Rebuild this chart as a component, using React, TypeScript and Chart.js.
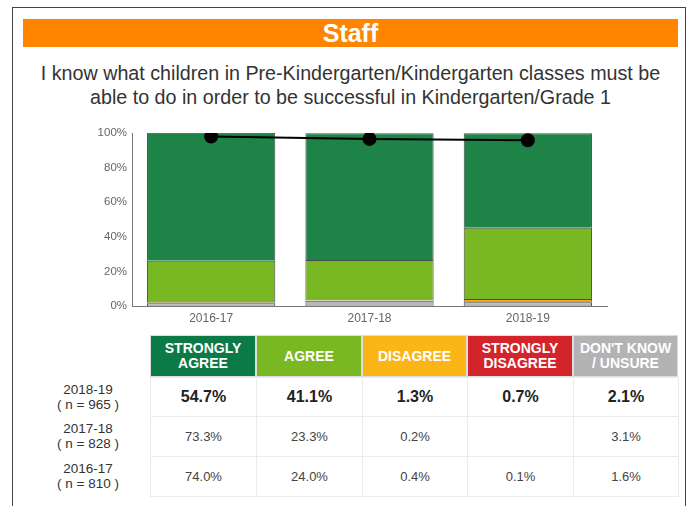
import React, { useEffect, useRef } from "react";
import { Chart, registerables } from "chart.js";

Chart.register(...registerables);

const categories = ["2016-17", "2017-18", "2018-19"];
const dontKnow = [1.6, 3.1, 2.1];
const stronglyDisagree = [0.1, 0, 0.7];
const disagree = [0.4, 0.2, 1.3];
const agree = [24.0, 23.3, 41.1];
const stronglyAgree = [74.0, 73.3, 54.7];
const agreeTotal = [98.0, 96.6, 95.8];
const yTicks = [0, 20, 40, 60, 80, 100];

const tableRows = ["2018-19", "2017-18", "2016-17"];
const tableN = [965, 828, 810];
const tableHeaders = [["STRONGLY", "AGREE"], ["AGREE"], ["DISAGREE"], ["STRONGLY", "DISAGREE"], ["DON'T KNOW", "/ UNSURE"]];
const tableValues = [
  ["54.7%", "41.1%", "1.3%", "0.7%", "2.1%"],
  ["73.3%", "23.3%", "0.2%", "", "3.1%"],
  ["74.0%", "24.0%", "0.4%", "0.1%", "1.6%"],
];
const headerColors = ["#0b7a47", "#79b823", "#fbb517", "#d3242c", "#b3b3b3"];

const FONT = "'Liberation Sans', Arial, sans-serif";

function StackChart() {
  const ref = useRef<HTMLCanvasElement | null>(null);
  useEffect(() => {
    if (!ref.current) return;
    const border = "rgba(40,40,40,0.85)";
    const chart = new Chart(ref.current, {
      type: "bar",
      data: {
        labels: categories,
        datasets: [
          {
            type: "line",
            label: "Agree total",
            data: agreeTotal,
            borderColor: "#000",
            backgroundColor: "#000",
            borderWidth: 2,
            pointRadius: 6,
            pointBackgroundColor: "#000",
            pointBorderColor: "#000",
            tension: 0,
            order: 0,
          } as any,
          { label: "Don't Know", data: dontKnow, backgroundColor: "#b8b8b8", borderColor: border, borderWidth: 1, order: 1 },
          { label: "Strongly Disagree", data: stronglyDisagree, backgroundColor: "#c0282d", borderColor: border, borderWidth: 1, order: 1 },
          { label: "Disagree", data: disagree, backgroundColor: "#f5a81c", borderColor: border, borderWidth: 1, order: 1 },
          { label: "Agree", data: agree, backgroundColor: "#78b823", borderColor: border, borderWidth: 1, order: 1 },
          { label: "Strongly Agree", data: stronglyAgree, backgroundColor: "#1d8347", borderColor: border, borderWidth: 1, order: 1 },
        ],
      },
      options: {
        animation: false,
        responsive: false,
        maintainAspectRatio: false,
        layout: { padding: { top: 13, right: 13, left: 0, bottom: 0 } },
        plugins: { legend: { display: false }, tooltip: { enabled: false } },
        datasets: { bar: { barPercentage: 0.9, categoryPercentage: 0.9 } },
        scales: {
          x: {
            stacked: true,
            grid: { display: false, drawTicks: false },
            border: { display: true, color: "#777", width: 1 },
            ticks: { color: "#666", font: { family: FONT, size: 12 }, padding: 5 },
            afterFit: (s: any) => { s.height = 29; },
          },
          y: {
            stacked: true,
            min: 0,
            max: 100,
            afterBuildTicks: (s: any) => { s.ticks = yTicks.map((v) => ({ value: v })); },
            grid: { display: false, drawTicks: false },
            border: { display: true, color: "#777", width: 1 },
            ticks: {
              color: "#666",
              font: { family: FONT, size: 11.5 },
              padding: 5,
              callback: (v: any) => v + "%",
            },
            afterFit: (s: any) => { s.width = 42; },
          },
        },
      },
    });
    return () => chart.destroy();
  }, []);
  return <canvas ref={ref} width={530} height={215} style={{ position: "absolute", left: 90, top: 120, width: 530, height: 215 }} />;
}

export default function App() {
  const colLefts = [150, 256, 362, 467, 573, 678];
  const rowTops = [335, 377, 416, 456, 496];
  return (
    <div style={{ position: "fixed", left: 0, top: 0, width: 693, height: 506, background: "#fff", overflow: "hidden", fontFamily: FONT }}>
      <div style={{ position: "absolute", left: 12, top: 7, width: 674, height: 520, border: "1px solid #444", boxSizing: "border-box" }} />
      <div style={{ position: "absolute", left: 23, top: 19, width: 655, height: 28, background: "#ff8400", color: "#fff", fontWeight: "bold", fontSize: 25, lineHeight: "28px", textAlign: "center" }}>Staff</div>
      <div style={{ position: "absolute", left: 13, top: 61, width: 675, textAlign: "center", color: "#333", fontSize: 19.7, lineHeight: "24px", whiteSpace: "nowrap" }}>
        I know what children in Pre-Kindergarten/Kindergarten classes must be<br />able to do in order to be successful in Kindergarten/Grade 1
      </div>
      <StackChart />
      {tableHeaders.map((h, i) => (
        <div key={i} style={{ position: "absolute", left: colLefts[i], top: rowTops[0], width: colLefts[i + 1] - colLefts[i], height: rowTops[1] - rowTops[0], background: headerColors[i], color: "#fff", fontWeight: "bold", fontSize: 14, lineHeight: "15px", display: "flex", flexDirection: "column", alignItems: "center", justifyContent: "center", textAlign: "center", boxSizing: "border-box", border: "1px solid #ddd", whiteSpace: "nowrap" }}>
          {h.map((t, k) => <div key={k}>{t}</div>)}
        </div>
      ))}
      {tableRows.map((r, ri) => (
        <React.Fragment key={r}>
          <div style={{ position: "absolute", left: 30, width: 116, top: rowTops[ri + 1], height: rowTops[ri + 2] - rowTops[ri + 1], display: "flex", flexDirection: "column", alignItems: "center", justifyContent: "center", color: "#333", fontSize: 13.5, lineHeight: "15px" }}>
            <div>{r}</div>
            <div>( n = {tableN[ri]} )</div>
          </div>
          {tableValues[ri].map((v, ci) => (
            <div key={ci} style={{ position: "absolute", left: colLefts[ci], top: rowTops[ri + 1], width: colLefts[ci + 1] - colLefts[ci] + 1, height: rowTops[ri + 2] - rowTops[ri + 1] + 1, boxSizing: "border-box", border: "1px solid #ebebeb", display: "flex", alignItems: "center", justifyContent: "center", color: ri === 0 ? "#222" : "#444", fontWeight: ri === 0 ? "bold" : "normal", fontSize: ri === 0 ? 16 : 13 }}>
              {v}
            </div>
          ))}
        </React.Fragment>
      ))}
    </div>
  );
}
